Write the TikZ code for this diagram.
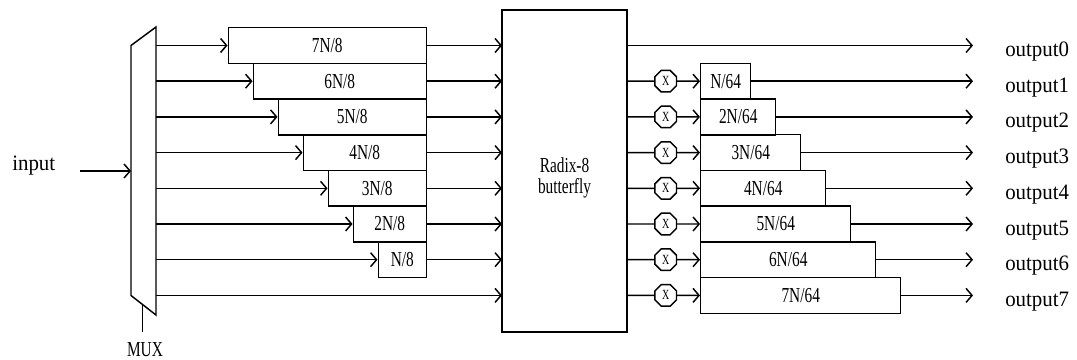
\documentclass[tikz,border=0pt]{standalone}
\usepackage{fontspec}
\setmainfont{Liberation Serif}
\newfontfamily\fwidefam{Liberation Serif}[FakeStretch=0.95]
\newfontfamily\fnarrowfam{Liberation Serif}[FakeStretch=0.72]
\usepackage{tikz}
\usetikzlibrary{arrows.meta,positioning,shapes.geometric}
\newcommand{\ftxt}{\fnarrowfam\fontsize{16}{15.75}\selectfont}
\newcommand{\fio}{\fwidefam\fontsize{16.5}{18}\selectfont}
\newcommand{\fsmall}{\fnarrowfam\fontsize{10.5}{11}\selectfont}
\tikzset{
  >={Straight Barb[length=4.5pt,width=10.5pt]},
  fline/.style={line width=1.1pt},
  fwire/.style={->, line width=1.1pt},
  fdelay/.style={draw, line width=1.1pt, minimum height=26.8pt,
                 inner sep=0pt, font=\ftxt},
  fmul/.style={regular polygon, regular polygon sides=8, draw,
               line width=1.1pt, minimum size=17.5pt, inner sep=0pt, font=\fsmall},
  fbfly/.style={draw, line width=1.1pt},
  flbl/.style={font=\ftxt, inner sep=0pt},
  fio/.style={font=\fio, inner sep=0pt},
}

\begin{document}
\begin{tikzpicture}[x=0.75pt,y=-0.75pt]
  \useasboundingbox (0,0) rectangle (1077,360);

  % mux
  \draw[fline] (131,45.5) -- (156,27) -- (156,315) -- (131,295.5) -- cycle;
  \coordinate (muxin)  at (131,171);
  \coordinate (muxsel) at (142.5,304.5);
  \coordinate (muxend) at (142.5,332);
  \draw[fline] (muxsel) -- (muxend);
  \node[flbl] (mux) at (145,350) {MUX};

  % input
  \node[fio, anchor=base west] (input) at (12,170) {input};
  \coordinate (instart) at (80,171);
  \draw[fwire] (instart) -- (muxin);

  % butterfly
  \node[fbfly, minimum width=93.75pt, minimum height=241.5pt]
       (bfly) at (564.5,171) {};
  \node[flbl, align=center] (bflytxt) at ([yshift=-5.5pt]bfly.center)
       {Radix-8\\butterfly};

  % rows
  \foreach \i in {0,...,7}{
    \pgfmathsetmacro{\ry}{45.5+35.7*\i}
    \coordinate (m\i) at (156,\ry);   % mux out
    \coordinate (b\i) at (502,\ry);   % butterfly in
    \coordinate (c\i) at (627,\ry);   % butterfly out
    \coordinate (o\i) at (973,\ry);
    \node[fio, anchor=base west] (out\i) at (1005,{\ry+11}) {output\i};
  }

  % delays before the butterfly
  \foreach \i [evaluate=\i as \k using int(7-\i)] in {0,...,6}{
    \node[fdelay, anchor=east, minimum width={(198-25*\i)*0.75pt}]
         (d\i) at (427,{45.5+35.7*\i}) {\ifnum\k=1 N\else\k N\fi/8};
    \draw[fwire] (m\i) -- (d\i.west);
    \draw[fwire] (d\i) -- (b\i);
  }
  \draw[fwire] (m7) -- (b7);

  % twiddles and delays after the butterfly
  \draw[fwire] (c0) -- (o0);
  \foreach \i in {1,...,7}{
    \node[fmul] (x\i) at (665.7,{45.5+35.7*\i}) {X};
    \node[fdelay, anchor=west, minimum width={(25+25*\i)*0.75pt}]
         (e\i) at (700,{45.5+35.7*\i}) {\ifnum\i=1 N\else\i N\fi/64};
    \draw[fline] (c\i) -- (x\i);
    \draw[fwire] (x\i) -- (e\i);
    \draw[fwire] (e\i) -- (o\i);
  }

\end{tikzpicture}
\end{document}
